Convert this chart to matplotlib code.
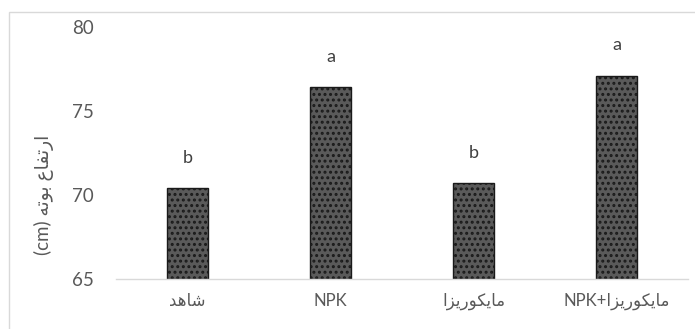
import matplotlib
matplotlib.use('Agg')
import matplotlib.pyplot as plt
from matplotlib.patches import Rectangle

# Persian glyph forms: isolated, final, initial, medial (None = letter does not join forward)
forms = {
    'ا': ('\uFE8D', '\uFE8E', None, None),
    'ب': ('\uFE8F', '\uFE90', '\uFE91', '\uFE92'),
    'ت': ('\uFE95', '\uFE96', '\uFE97', '\uFE98'),
    'د': ('\uFEA9', '\uFEAA', None, None),
    'ر': ('\uFEAD', '\uFEAE', None, None),
    'ز': ('\uFEAF', '\uFEB0', None, None),
    'ش': ('\uFEB5', '\uFEB6', '\uFEB7', '\uFEB8'),
    'ع': ('\uFEC9', '\uFECA', '\uFECB', '\uFECC'),
    'ف': ('\uFED1', '\uFED2', '\uFED3', '\uFED4'),
    'ک': ('\uFB8E', '\uFB8F', '\uFB90', '\uFB91'),
    'م': ('\uFEE1', '\uFEE2', '\uFEE3', '\uFEE4'),
    'ه': ('\uFEE9', '\uFEEA', '\uFEEB', '\uFEEC'),
    'و': ('\uFEED', '\uFEEE', None, None),
    'ی': ('\uFBFC', '\uFBFD', '\uFBFE', '\uFBFF'),
}

def shape(word):
    out = []
    for i, ch in enumerate(word):
        if ch not in forms:
            out.append(ch)
            continue
        prev = word[i-1] if i > 0 else ''
        nxt = word[i+1] if i < len(word)-1 else ''
        join_prev = prev in forms and forms[prev][2] is not None
        join_next = nxt in forms and forms[ch][2] is not None
        iso, fin, ini, med = forms[ch]
        if join_prev and join_next:
            out.append(med)
        elif join_prev:
            out.append(fin)
        elif join_next:
            out.append(ini)
        else:
            out.append(iso)
    return ''.join(out)

def rtl(text):
    return ''.join(reversed(shape(text)))

groups = ['شاهد', 'NPK', 'مایکوریزا', 'مایکوریزا+NPK']
tick_labels = [rtl('شاهد'), 'NPK', rtl('مایکوریزا'), 'NPK+' + rtl('مایکوریزا')]
height = [70.4, 76.4, 70.7, 77.1]
letters = ['b', 'a', 'b', 'a']
y_label = '(cm) ' + rtl('ارتفاع بوته')

plt.rcParams['font.family'] = ['Lato', 'DejaVu Sans']
plt.rcParams['hatch.color'] = '#f2f2f2'
plt.rcParams['hatch.linewidth'] = 1.4

fig = plt.figure(figsize=(6.95, 3.29), dpi=100)
ax = fig.add_axes([116/695, 1-279/329, 572/695, 252/329])

x = range(len(groups))
bars = ax.bar(x, [h - 65 for h in height], bottom=65, width=0.29,
              color='#5a5a5a', edgecolor='#1a1a1a', linewidth=1.0, hatch='...')

for xi, h, l in zip(x, height, letters):
    ax.text(xi, h + 1.35, l, ha='center', va='bottom', fontsize=13, color='#404040')

ax.set_ylim(65, 80)
ax.set_xlim(-0.5, 3.5)
ax.set_yticks([65, 70, 75, 80])
ax.set_xticks(list(x))
ax.set_xticklabels(tick_labels, fontsize=12, color='#595959')
ax.tick_params(axis='y', length=0, pad=16, labelsize=13.5, labelcolor='#595959')
ax.tick_params(axis='x', length=0, pad=10)
for s in ['top', 'right', 'left']:
    ax.spines[s].set_visible(False)
ax.spines['bottom'].set_color('#d9d9d9')
ax.spines['bottom'].set_linewidth(1.0)

fig.text(44/695, 1-195/329, y_label, rotation=90, ha='center', va='center',
         fontsize=13.5, color='#595959')

# chart area frame
fig.patches.append(Rectangle((9/695, -0.02), 0.99, 1-12/329+0.02, transform=fig.transFigure,
                             fill=False, edgecolor='#d9d9d9', linewidth=1.0))

fig.savefig('out.png', dpi=100)
